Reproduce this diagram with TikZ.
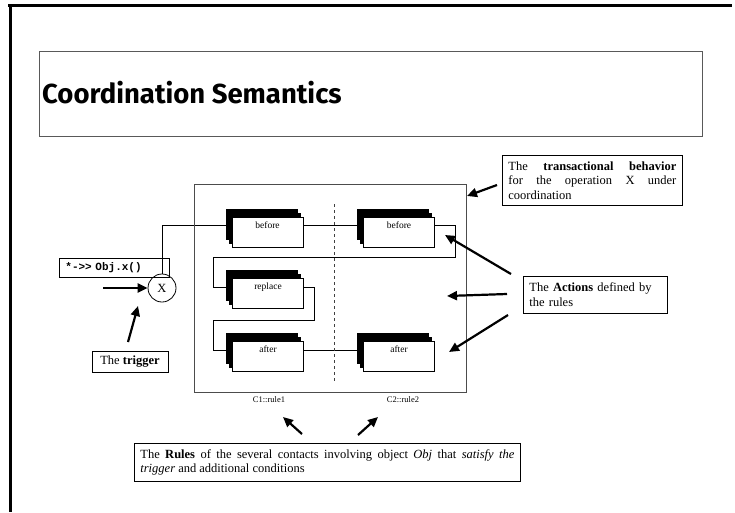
\documentclass[tikz,border=0pt]{standalone}
\usepackage{fontspec}
\setmainfont{Liberation Serif}
\setmonofont{Liberation Mono}
\newfontfamily\headfont{Fira Sans}
\usetikzlibrary{arrows.meta,shadows,backgrounds}

\begin{document}
\begin{tikzpicture}[x=1pt,y=-1pt,
  every node/.style={font=\fontsize{12.5}{14.5}\selectfont},
  frameline/.style={line width=2.7pt, black},
  box/.style={draw=black, line width=0.8pt},
  actbox/.style={draw=black, fill=white, line width=0.7pt,
    minimum width=71pt, inner xsep=0pt, inner ysep=0pt,
    text height=11pt, text depth=19pt,
    font=\fontsize{9.5}{10}\selectfont,
    double copy shadow={shadow xshift=-3pt, shadow yshift=4pt, fill=black, draw=black}},
  conn/.style={line width=0.7pt, black},
  bigarrow/.style={line width=2.2pt, black, -{Triangle[length=10pt,width=9pt]}},
  rulelabel/.style={font=\fontsize{8.5}{10}\selectfont}
]
\useasboundingbox (0,0) rectangle (735,512);
\begin{pgfonlayer}{background}
  \fill[white] (0,0) rectangle (735,512);
\end{pgfonlayer}

% page frame
\draw[frameline] (8,5.5) -- (732,5.5);
\draw[frameline] (10.3,4.2) -- (10.3,512);

% heading
\node[draw=gray!70!black, line width=1pt, minimum width=663pt, minimum height=85pt,
      anchor=north west, inner sep=0pt] (titlebox) at (39,51) {};
\node[anchor=base west, inner sep=0pt, font=\headfont\bfseries\fontsize{27.5}{30}\selectfont]
      (title) at (42,103) {Coordination Semantics};

% explanation boxes
\node[box, anchor=north west, text width=168pt, inner sep=6pt, align=justify]
      (trans) at (502,155) {The \textbf{transactional behavior}\linebreak for the operation X under\linebreak coordination};
\node[box, anchor=north west, text width=132pt, inner sep=6pt, align=left, minimum height=37pt]
      (acts) at (523,276) {The \textbf{Actions} defined by\\the rules};
\node[box, anchor=north west, text width=374pt, inner sep=6pt, align=justify]
      (rules) at (134,443) {\hyphenpenalty=10000 The \textbf{Rules} of the several contacts involving object \textit{Obj} that \textit{satisfy the\linebreak trigger} and additional conditions};

% the call and its trigger
\node[box, anchor=west, text width=98pt, inner xsep=6pt, inner ysep=0pt, minimum height=19pt,
      align=left, font=\ttfamily\bfseries\fontsize{11}{12}\selectfont]
      (call) at (59,267.5) {*->> Obj.x()};
\node[circle, draw=black, line width=0.8pt, minimum size=28pt, inner sep=0pt] (X) at (162,288) {X};
\node[box, minimum width=76pt, minimum height=21pt, inner sep=0pt] (trig) at (130,361.5) {The \textbf{trigger}};

% coordination scope
\node[draw=gray!60!black, line width=1.2pt, minimum width=272pt, minimum height=208pt,
      anchor=north west, inner sep=0pt] (scope) at (194,184) {};
\draw[dashed, gray!50!black, line width=0.8pt] (334,204) -- (334,382);

% actions of the rules
\node[actbox] (b1) at (267.5,232) {before};
\node[actbox] (b2) at (399,232) {before};
\node[actbox] (rp) at (268,293) {replace};
\node[actbox] (a1) at (268,356) {after};
\node[actbox] (a2) at (399,356) {after};

\node[rulelabel] (c1) at (269,400) {C1::rule1};
\node[rulelabel] (c2) at (403,400) {C2::rule2};

% execution flow
\coordinate (loopA) at (455,257);
\coordinate (loopB) at (213,257);
\coordinate (loopC) at (314,320);
\coordinate (loopD) at (213,320);
\begin{pgfonlayer}{background}
  \draw[conn] (X.north) |- ([yshift=7pt]b1.west);
  \draw[conn] ([yshift=7pt]b1.east) -- ([yshift=7pt]b2.west);
  \draw[conn] ([yshift=7pt]b2.east) -| (loopA) -- (loopB) |- ([yshift=6pt]rp.west);
  \draw[conn] ([yshift=6pt]rp.east) -| (loopC) -- (loopD) |- ([yshift=6pt]a1.west);
  \draw[conn] ([yshift=6pt]a1.east) -- ([yshift=6pt]a2.west);
\end{pgfonlayer}

% pointers
\coordinate (inS) at (103,288);
\coordinate (trS) at (128,342);
\coordinate (trE) at (138,306);
\coordinate (tS) at (497,185);
\coordinate (tE) at (467,196);
\coordinate (p1S) at (511,274);
\coordinate (p1E) at (445,235);
\coordinate (p2S) at (507,294);
\coordinate (p2E) at (447,296);
\coordinate (p3S) at (508,315);
\coordinate (p3E) at (449,352);
\coordinate (r1S) at (302,434);
\coordinate (r1E) at (283,417);
\coordinate (r2S) at (358,435);
\coordinate (r2E) at (378,417);

\draw[bigarrow] (inS) -- (X.west);
\draw[bigarrow] (trS) -- (trE);
\draw[bigarrow] (tS) -- (tE);
\draw[bigarrow] (p1S) -- (p1E);
\draw[bigarrow] (p2S) -- (p2E);
\draw[bigarrow] (p3S) -- (p3E);
\draw[bigarrow] (r1S) -- (r1E);
\draw[bigarrow] (r2S) -- (r2E);
\end{tikzpicture}
\end{document}
